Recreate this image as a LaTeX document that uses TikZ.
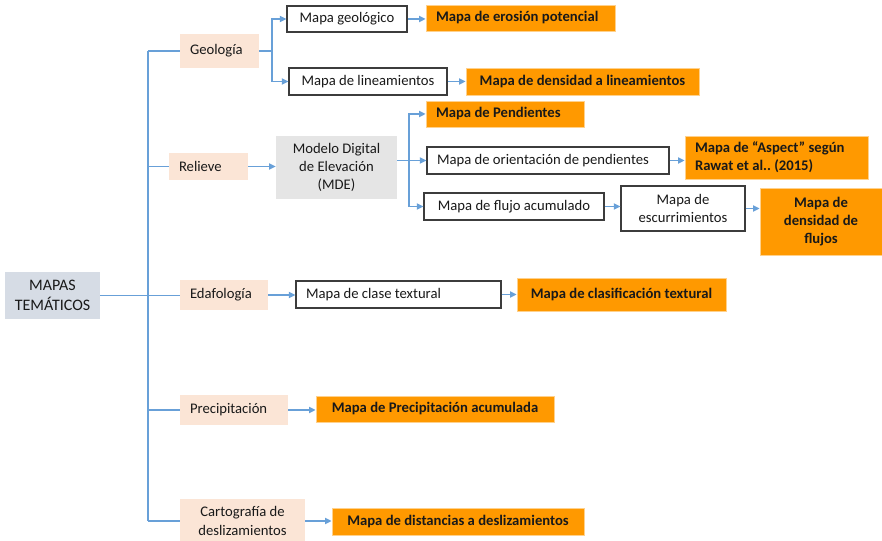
\documentclass[tikz,border=0pt]{standalone}
\usepackage{fontspec}
\setmainfont{Carlito}
\usetikzlibrary{arrows.meta, positioning, calc}
\frenchspacing
\definecolor{mapLine}{RGB}{104,160,216}
\definecolor{mapOrange}{RGB}{255,153,0}
\definecolor{mapPeach}{RGB}{251,229,214}
\definecolor{mapGray}{RGB}{229,229,229}
\definecolor{mapSlate}{RGB}{214,220,229}
\definecolor{mapBorder}{RGB}{60,60,60}

\begin{document}
\begin{tikzpicture}[
    x=0.75pt, y=-0.75pt,
    base/.style={
        rectangle,
        inner xsep=7.5pt,
        inner ysep=1.5pt,
        font=\fontsize{11}{13.6}\selectfont,
        text=black!90,
        align=center
    },
    boxw/.style={minimum width=#1*0.75pt},
    lboxw/.style={
        text width=#1*0.75pt-15pt,
        align=left,
        execute at begin node={\spaceskip=0pt\xspaceskip=0pt}
    },
    boxh/.style={minimum height=#1*0.75pt},
    root/.style={base, fill=mapSlate, font=\fontsize{12}{14.5}\selectfont},
    theme/.style={base, fill=mapPeach},
    source/.style={base, fill=mapGray},
    inter/.style={base, draw=mapBorder, fill=white, line width=0.8pt},
    result/.style={
        base,
        fill=mapOrange,
        draw=mapOrange!45,
        line width=0.5pt,
        font=\fontsize{11}{13.6}\selectfont\bfseries
    },
    link/.style={draw=mapLine, line width=1.4pt},
    arrow/.style={link, -{Triangle[length=5pt, width=4.5pt]}}
]
    \useasboundingbox (0,0) rectangle (882,541);

    % Root and themes
    \node[root, boxw=95, boxh=47] (mapas) at (52.5,295.5) {MAPAS\\TEMÁTICOS};
    \node[theme, lboxw=79, boxh=34] (geo) at (219.5,51) {Geología};
    \node[theme, lboxw=79, boxh=27] (rel) at (208.5,166.5) {Relieve};
    \node[theme, lboxw=88, boxh=30] (edaf) at (224,295) {Edafología};
    \node[theme, lboxw=108, boxh=30] (prec) at (234,410) {Precipitación};
    \node[theme, boxw=125, boxh=44] (carto) at (242.5,521) {Cartografía de\\deslizamientos};

    % Intermediate maps
    \node[inter, boxw=120, boxh=26] (mgeo) at (347,19) {Mapa geológico};
    \node[inter, boxw=158, boxh=27] (mlin) at (368,81.5) {Mapa de lineamientos};
    \node[source, boxw=121, boxh=63] (mde) at (336.5,167.5) {Modelo Digital\\de Elevación\\(MDE)};
    \node[inter, lboxw=242, boxh=27] (orient) at (548,160.5) {Mapa de orientación de pendientes};
    \node[inter, boxw=180, boxh=27] (flujo) at (514,206.5) {Mapa de flujo acumulado};
    \node[inter, boxw=124, boxh=45] (escur) at (683,208.5) {Mapa de\\escurrimientos};
    \node[inter, lboxw=205, boxh=27] (clase) at (398.5,294.5) {Mapa de clase textural};

    % Resulting maps
    \node[result, lboxw=189, boxh=26] (eros) at (520.5,18) {Mapa de erosión potencial};
    \node[result, boxw=233, boxh=27] (dlin) at (582.5,81.5) {Mapa de densidad a lineamientos};
    \node[result, lboxw=158, boxh=26] (pend) at (505,114) {Mapa de Pendientes};
    \node[result, lboxw=183, boxh=43] (aspect) at (776.5,157.5) {Mapa de “Aspect” según\\Rawat et al.. (2015)};
    \node[result, boxw=122, boxh=67] (dflu) at (821,221.5) {Mapa de\\densidad de\\flujos};
    \node[result, boxw=209, boxh=33] (clasif) at (621.5,294.5) {Mapa de clasificación textural};
    \node[result, boxw=238, boxh=26] (pacum) at (435,409) {Mapa de Precipitación acumulada};
    \node[result, boxw=252, boxh=27] (dist) at (458,521.5) {Mapa de distancias a deslizamientos};

    % Trunk
    \coordinate (trunk top) at (148,51);
    \coordinate (trunk bot) at (carto.west -| trunk top);
    \draw[link] (trunk top) -- (trunk bot);
    \draw[link] (mapas.east) -- (mapas.east -| edaf.west);
    \draw[link] (trunk top) -- (geo.west);
    \draw[link] (rel.west -| trunk top) -- (rel.west);
    \draw[link] (prec.west -| trunk top) -- (prec.west);
    \draw[link] (trunk bot) -- (carto.west);

    % Geologia
    \coordinate (geo split) at (272,51);
    \draw[link] (geo.east) -- (geo split);
    \draw[arrow] (geo split) |- (mgeo.west);
    \draw[arrow] (geo split) |- (mlin.west);
    \draw[arrow] (mgeo.east) -- (mgeo.east -| eros.west);
    \draw[arrow] (mlin.east) -- (mlin.east -| dlin.west);

    % Relieve
    \coordinate (mde split) at (409,160.5);
    \draw[arrow] (rel.east) -- (rel.east -| mde.west);
    \draw[arrow] (mde.east |- mde split) -- (orient.west);
    \draw[arrow] (mde split) |- (pend.west);
    \draw[arrow] (mde split) |- (flujo.west);
    \draw[arrow] (orient.east) -- (orient.east -| aspect.west);
    \draw[arrow] (flujo.east) -- (flujo.east -| escur.west);
    \draw[arrow] (escur.east) -- (escur.east -| dflu.west);

    % Edafologia, Precipitacion, Cartografia
    \draw[arrow] (edaf.east) -- (edaf.east -| clase.west);
    \draw[arrow] (clase.east) -- (clase.east -| clasif.west);
    \draw[arrow] (prec.east) -- (prec.east -| pacum.west);
    \draw[arrow] (carto.east) -- (carto.east -| dist.west);

\end{tikzpicture}
\end{document}
